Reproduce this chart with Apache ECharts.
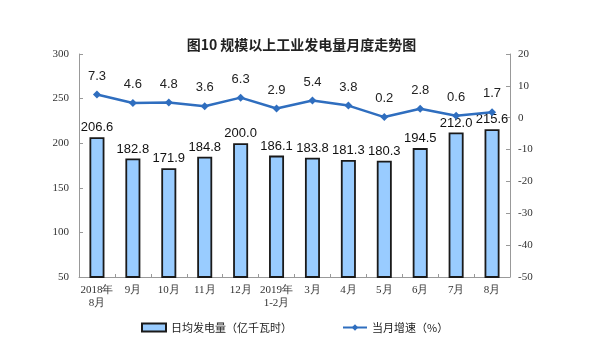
<!DOCTYPE html>
<html><head><meta charset="utf-8">
<script src="https://cdn.jsdelivr.net/npm/echarts@6/dist/echarts.min.js"></script>
<style>html,body{margin:0;padding:0;background:#fff}#c{width:603px;height:359px}</style>
</head><body><div id="c"></div>
<script>
var categories = ['2018年\n8月','9月','10月','11月','12月','2019年\n1-2月','3月','4月','5月','6月','7月','8月'];
var dailyPower = [206.6,182.8,171.9,184.8,200.0,186.1,183.8,181.3,180.3,194.5,212.0,215.6];
var growth = [7.3,4.6,4.8,3.6,6.3,2.9,5.4,3.8,0.2,2.8,0.6,1.7];
var barName = '日均发电量（亿千瓦时）';
var lineName = '当月增速（%）';
var chart = echarts.init(document.getElementById('c'));
var axisFont = {fontFamily:'Liberation Serif, serif', fontSize:11, color:'#333'};
chart.setOption({
  animation:false,
  title:{text:'图10 规模以上工业发电量月度走势图', left:'center', top:33,
    textStyle:{fontSize:14, fontWeight:'bold', color:'#222', fontFamily:'Noto Sans CJK SC'}},
  legend:{bottom:21, left:136, itemGap:50, itemWidth:24, itemHeight:8,
    textStyle:{fontSize:11, color:'#222', fontFamily:'Noto Sans CJK SC'},
    data:[{name:barName, icon:'rect'},{name:lineName}]},
  grid:{left:79, right:93, top:54, bottom:82},
  xAxis:{type:'category', data:categories,
    axisLine:{onZero:false, lineStyle:{color:'#999'}},
    axisTick:{show:true, inside:true, length:3, lineStyle:{color:'#999'}},
    axisLabel:Object.assign({margin:7, lineHeight:13, interval:0}, axisFont)},
  yAxis:[
    {type:'value', min:50, max:300, interval:50, splitLine:{show:false},
      axisLine:{show:true, lineStyle:{color:'#999'}},
      axisTick:{show:true, inside:true, length:4, lineStyle:{color:'#999'}},
      axisLabel:Object.assign({margin:10}, axisFont)},
    {type:'value', min:-50, max:20, interval:10, splitLine:{show:false},
      axisLine:{show:true, lineStyle:{color:'#999'}},
      axisTick:{show:true, inside:true, length:4, lineStyle:{color:'#999'}},
      axisLabel:Object.assign({margin:8}, axisFont)}
  ],
  series:[
    {name:barName, type:'bar', data:dailyPower, barWidth:15,
      itemStyle:{color:'#99ccff', borderColor:'#1a1a1a', borderWidth:1.8},
      label:{show:true, position:'top', distance:3, fontSize:13, color:'#111', fontFamily:'Liberation Sans, Arial',
        formatter:function(p){return p.value.toFixed(1);}}},
    {name:lineName, type:'line', yAxisIndex:1, data:growth, symbol:'diamond', symbolSize:8,
      lineStyle:{color:'#2f6ebf', width:2.5}, itemStyle:{color:'#2f6ebf'},
      label:{show:true, position:'top', distance:8, fontSize:13, color:'#222', fontFamily:'Liberation Sans, Arial',
        formatter:function(p){return p.value.toFixed(1);}}}
  ]
});
</script></body></html>
